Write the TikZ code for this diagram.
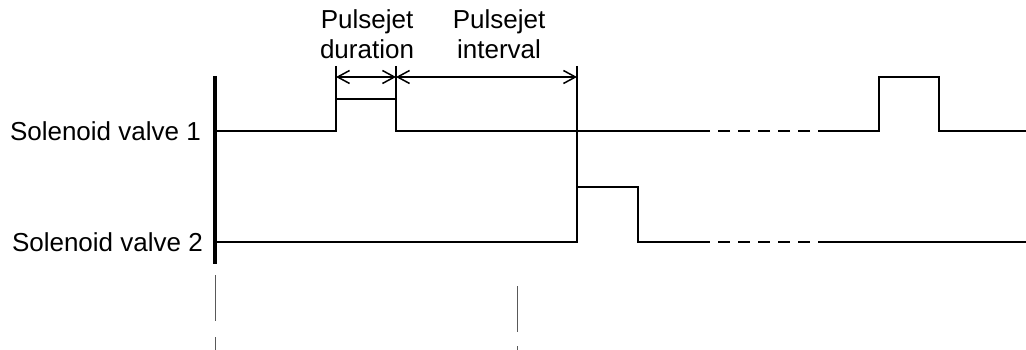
\documentclass[tikz,border=0pt]{standalone}
\usepackage{fontspec}
\setmainfont{Liberation Sans}
\usetikzlibrary{arrows.meta}
\begin{document}
\begin{tikzpicture}[x=1pt,y=-1pt,
  sig/.style={line width=1.5pt,line join=miter},
  axisline/.style={line width=3.5pt},
  gap/.style={line width=1.5pt,dash pattern=on 12pt off 8pt},
  guide/.style={line width=1pt,gray!70!black},
  dim/.style={line width=1.5pt,{Straight Barb[length=12pt,width=13pt,line width=1.5pt]}-{Straight Barb[length=12pt,width=13pt,line width=1.5pt]}},
  lbl/.style={font=\fontsize{26}{30}\selectfont,inner sep=0pt},
  toplbl/.style={font=\fontsize{26}{30}\selectfont,inner sep=0pt,align=center,anchor=north}]
\useasboundingbox (0,0) rectangle (1026,350);
% labels
\node[lbl,anchor=east] (v1) at (201,131) {Solenoid valve 1};
\node[lbl,anchor=east] (v2) at (203,242) {Solenoid valve 2};
\node[toplbl] (dur) at (367,9) {Pulsejet\\duration};
\node[toplbl] (int) at (499,9) {Pulsejet\\interval};
% axis
\draw[axisline] (215,76) -- (215,264);
% valve 1
\draw[sig] (215,131) -- (336,131) -- (336,99) -- (396,99) -- (396,131) -- (698,131);
\draw[gap] (698,131) -- (820,131);
\draw[sig] (820,131) -- (879,131) -- (879,77) -- (939,77) -- (939,131) -- (1026,131);
% valve 2
\draw[sig] (215,242) -- (577,242) -- (577,187) -- (638,187) -- (638,242) -- (698,242);
\draw[gap] (698,242) -- (820,242);
\draw[sig] (820,242) -- (1026,242);
% extension lines
\draw[sig] (336,66) -- (336,99);
\draw[sig] (396,66) -- (396,99);
\draw[sig] (577,66) -- (577,187);
% dimension arrows
\coordinate (a1) at (336,77);
\coordinate (a2) at (396,77);
\coordinate (a3) at (577,77);
\draw[dim] (a1) -- (a2);
\draw[dim] (a2) -- (a3);
% guide lines below
\draw[guide] (215,275) -- (215,321);
\draw[guide] (215,337) -- (215,350);
\draw[guide] (517,286) -- (517,332);
\draw[guide] (517,346) -- (517,350);
\end{tikzpicture}
\end{document}
